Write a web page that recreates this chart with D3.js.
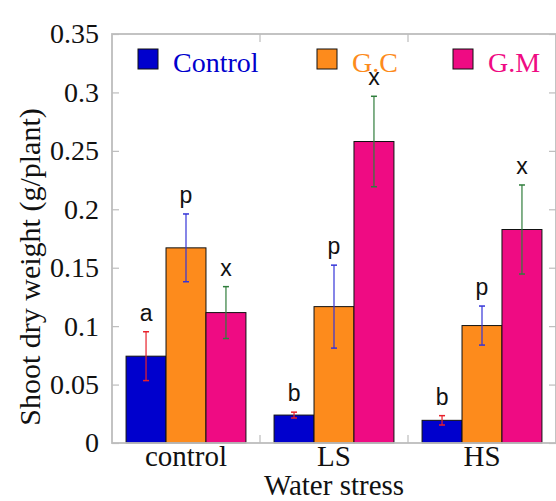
<!DOCTYPE html>
<html>
<head>
<meta charset="utf-8">
<script src="https://cdn.jsdelivr.net/npm/d3@7"></script>
<style>
  body { margin: 0; background: #fff; }
</style>
</head>
<body>
<svg id="chart" width="556" height="501"></svg>
<script>
// data
var groups = ['control', 'LS', 'HS'];
var series = ['Control', 'G.C', 'G.M'];
var controlMean = [0.0743, 0.0239, 0.0194];
var controlErr  = [0.0209, 0.0025, 0.0040];
var gcMean = [0.1670, 0.1167, 0.1005];
var gcErr  = [0.0290, 0.0355, 0.0167];
var gmMean = [0.1116, 0.2580, 0.1827];
var gmErr  = [0.0222, 0.0387, 0.0381];
var letters = [['a', 'b', 'b'], ['p', 'p', 'p'], ['x', 'x', 'x']];
var yTicks = [0, 0.05, 0.1, 0.15, 0.2, 0.25, 0.3, 0.35];

var colors = ['#0000cd', '#fd8b1c', '#ef0b83'];
var errColors = ['#e8202a', '#3434d8', '#2f7d3c'];

var means = [controlMean, gcMean, gmMean];
var errs = [controlErr, gcErr, gmErr];

var serif = '"Liberation Serif", "Times New Roman", serif';
var sans = '"Liberation Sans", Arial, sans-serif';

var margin = {top: 34, right: 0, bottom: 58, left: 112};
var width = 556 - margin.left - margin.right,
    height = 501 - margin.top - margin.bottom;

var svg = d3.select('#chart').append('g')
  .attr('transform', 'translate(' + margin.left + ',' + margin.top + ')');

var x = d3.scaleBand().domain(groups).range([0, width]);
var xs = d3.scaleBand().domain(series)
  .range([x.bandwidth() * 0.095, x.bandwidth() * 0.905]);
var y = d3.scaleLinear().domain([0, 0.35]).range([height, 0]);

var frame = '#bdbdbd';

// bars
series.forEach((s, i) => {
  var g = svg.append('g');
  g.selectAll('rect')
    .data(groups)
    .enter().append('rect')
    .attr('x', d => x(d) + xs(s))
    .attr('y', (d, j) => y(means[i][j]))
    .attr('width', xs.bandwidth())
    .attr('height', (d, j) => height - y(means[i][j]))
    .attr('fill', colors[i])
    .attr('stroke', '#111')
    .attr('stroke-width', 1);

  // error bars + letters
  groups.forEach((grp, j) => {
    var cx = x(grp) + xs(s) + xs.bandwidth() / 2;
    var hi = y(means[i][j] + errs[i][j]), lo = y(means[i][j] - errs[i][j]);
    g.append('line').attr('x1', cx).attr('x2', cx).attr('y1', hi).attr('y2', lo)
      .attr('stroke', errColors[i]).attr('stroke-width', 1.2);
    [hi, lo].forEach(v => {
      g.append('line').attr('x1', cx - 3).attr('x2', cx + 3).attr('y1', v).attr('y2', v)
        .attr('stroke', errColors[i]).attr('stroke-width', 1.5);
    });
    g.append('text')
      .style('font-family', sans)
      .attr('x', cx)
      .attr('y', hi - 11)
      .attr('text-anchor', 'middle')
      .attr('font-size', 23)
      .attr('fill', '#111')
      .text(letters[i][j]);
  });
});

// frame + axes
var yAxis = svg.append('g')
  .call(d3.axisLeft(y).tickValues(yTicks).tickSize(-7).tickPadding(13)
    .tickFormat(d => d === 0 ? '0' : String(d)));
yAxis.select('.domain').remove();
yAxis.selectAll('line').attr('stroke', frame).attr('stroke-width', 1.2);
yAxis.selectAll('text').style('font-family', serif).style('font-size', '28px').attr('fill', '#111');

var rAxis = svg.append('g')
  .attr('transform', 'translate(' + width + ',0)')
  .call(d3.axisRight(y).tickValues(yTicks).tickSize(-7).tickFormat(''));
rAxis.select('.domain').remove();
rAxis.selectAll('line').attr('stroke', frame).attr('stroke-width', 1.2);

var xAxis = svg.append('g')
  .attr('transform', 'translate(0,' + height + ')')
  .call(d3.axisBottom(x).tickSize(0).tickPadding(2));
xAxis.select('.domain').remove();
xAxis.selectAll('text').style('font-family', serif).style('font-size', '29px')
  .attr('fill', '#111').attr('dy', '0.71em');

// group separator ticks, top and bottom
groups.slice(1).forEach(gname => {
  svg.append('line').attr('x1', x(gname)).attr('x2', x(gname))
    .attr('y1', height).attr('y2', height - 8).attr('stroke', frame).attr('stroke-width', 1.2);
  svg.append('line').attr('x1', x(gname)).attr('x2', x(gname))
    .attr('y1', 0).attr('y2', 8).attr('stroke', frame).attr('stroke-width', 1.2);
});

svg.append('rect')
  .attr('x', 0).attr('y', 0).attr('width', width).attr('height', height)
  .attr('fill', 'none').attr('stroke', frame).attr('stroke-width', 1.8);

// titles
svg.append('text')
  .style('font-family', serif).style('font-size', '29px')
  .attr('x', width / 2).attr('y', height + 52)
  .attr('text-anchor', 'middle').attr('fill', '#111')
  .text('Water stress');

svg.append('text')
  .style('font-family', serif).style('font-size', '30px')
  .attr('transform', 'translate(' + (40 - margin.left) + ',' + (267 - margin.top) + ') rotate(-90)')
  .attr('text-anchor', 'middle').attr('fill', '#111')
  .text('Shoot dry weight (g/plant)');

// legend
var legendX = [26, 205, 341];
series.forEach((s, i) => {
  var lg = svg.append('g').attr('transform', 'translate(' + legendX[i] + ',15)');
  lg.append('rect').attr('width', 20).attr('height', 20)
    .attr('fill', colors[i]).attr('stroke', '#111').attr('stroke-width', 1);
  lg.append('text').attr('x', 35).attr('y', 22.5)
    .style('font-family', serif).style('font-size', '28px').attr('fill', colors[i])
    .text(s);
});
</script>
</body>
</html>
